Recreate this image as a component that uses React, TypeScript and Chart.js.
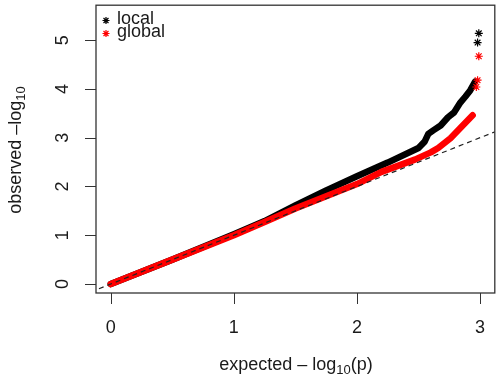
import React, { useEffect, useRef } from "react";
import { Chart, registerables } from "chart.js";

Chart.register(...registerables);

// ---- data ----
const xTicks = [0, 1, 2, 3];
const yTicks = [0, 1, 2, 3, 4, 5];

// local (black) dense band
const localX = [0, 0.5, 1.0, 1.25, 1.5, 1.75, 2.0, 2.25, 2.5, 2.55, 2.58, 2.62, 2.68, 2.74, 2.79, 2.84, 2.88, 2.92, 2.96];
const localY = [0, 0.5, 1.02, 1.29, 1.61, 1.92, 2.21, 2.49, 2.79, 2.92, 3.08, 3.15, 3.25, 3.42, 3.52, 3.72, 3.84, 3.97, 4.15];
// local sparse tail
const localTailX = [2.98, 2.99];
const localTailY = [4.95, 5.14];

// global (red) dense band
const globalX = [0, 0.5, 1.0, 1.25, 1.5, 1.75, 2.0, 2.2, 2.47, 2.6, 2.66, 2.76, 2.84, 2.94];
const globalY = [0, 0.5, 1.0, 1.27, 1.55, 1.8, 2.05, 2.3, 2.55, 2.7, 2.79, 2.99, 3.2, 3.46];
// global sparse tail
const globalTailX = [2.97, 2.98, 2.99];
const globalTailY = [4.04, 4.18, 4.67];

// y = x reference line
const refX = [-0.3, 3.3];
const refY = [-0.3, 3.3];

const legendLabels = ["local", "global"];
const legendColors = ["#000000", "#ff0000"];

const toPts = (xs: number[], ys: number[]) => xs.map((x, i) => ({ x, y: ys[i] }));

const FONT = "Liberation Sans, Arial, Helvetica, sans-serif";
const INK = "#1a1a1a";

function drawStar(ctx: CanvasRenderingContext2D, x: number, y: number, r: number, color: string) {
  ctx.save();
  ctx.strokeStyle = color;
  ctx.lineWidth = 1.2;
  ctx.beginPath();
  for (let k = 0; k < 4; k++) {
    const a = (k * Math.PI) / 4;
    ctx.moveTo(x - Math.cos(a) * r, y - Math.sin(a) * r);
    ctx.lineTo(x + Math.cos(a) * r, y + Math.sin(a) * r);
  }
  ctx.stroke();
  ctx.restore();
}

const decorPlugin = {
  id: "rdecor",
  afterDraw(chart: any) {
    const ctx: CanvasRenderingContext2D = chart.ctx;
    const { left, right, top, bottom } = chart.chartArea;
    const xs = chart.scales.x;
    const ys = chart.scales.y;
    ctx.save();
    // box
    ctx.strokeStyle = "#333";
    ctx.lineWidth = 1.3;
    ctx.strokeRect(left, top, right - left, bottom - top);
    // ticks
    ctx.lineWidth = 1;
    ctx.strokeStyle = "#333";
    ctx.beginPath();
    xTicks.forEach((t) => {
      const px = Math.round(xs.getPixelForValue(t)) + 0.5;
      ctx.moveTo(px, bottom);
      ctx.lineTo(px, bottom + 11);
    });
    yTicks.forEach((t) => {
      const py = Math.round(ys.getPixelForValue(t)) + 0.5;
      ctx.moveTo(left, py);
      ctx.lineTo(left - 11, py);
    });
    ctx.stroke();
    // tick labels
    ctx.fillStyle = INK;
    ctx.font = `18px ${FONT}`;
    ctx.textAlign = "center";
    ctx.textBaseline = "middle";
    xTicks.forEach((t) => {
      ctx.fillText(String(t), xs.getPixelForValue(t), 328);
    });
    yTicks.forEach((t) => {
      ctx.save();
      ctx.translate(63, ys.getPixelForValue(t));
      ctx.rotate(-Math.PI / 2);
      ctx.fillText(String(t), 0, 0);
      ctx.restore();
    });

    // titles with subscript
    const drawTitle = (parts: { t: string; sub?: boolean }[], cx: number, cy: number, rot: number) => {
      ctx.save();
      ctx.translate(cx, cy);
      ctx.rotate(rot);
      ctx.textAlign = "left";
      ctx.textBaseline = "alphabetic";
      let w = 0;
      parts.forEach((p) => {
        ctx.font = p.sub ? `13px ${FONT}` : `18px ${FONT}`;
        w += ctx.measureText(p.t).width;
      });
      let x = -w / 2;
      parts.forEach((p) => {
        ctx.font = p.sub ? `13px ${FONT}` : `18px ${FONT}`;
        ctx.fillText(p.t, x, p.sub ? 10 : 6);
        x += ctx.measureText(p.t).width;
      });
      ctx.restore();
    };
    drawTitle(
      [{ t: "expected \u2013 log" }, { t: "10", sub: true }, { t: "(p)" }],
      296,
      364,
      0
    );
    drawTitle(
      [{ t: "observed \u2013log" }, { t: "10", sub: true }],
      15,
      150,
      -Math.PI / 2
    );

    // legend
    legendLabels.forEach((lab, i) => {
      const cy = 20 + i * 13;
      drawStar(ctx, 106, cy + 0.5, 3.5, legendColors[i]);
      ctx.fillStyle = INK;
      ctx.font = `18px ${FONT}`;
      ctx.textAlign = "left";
      ctx.textBaseline = "middle";
      ctx.fillText(lab, 117, cy - 1);
    });
    ctx.restore();
  },
};

export default function App() {
  const ref = useRef<HTMLCanvasElement | null>(null);
  useEffect(() => {
    document.body.style.margin = "0";
    const canvas = ref.current!;
    const chart = new Chart(canvas, {
      type: "scatter",
      data: {
        datasets: [
          {
            label: "ref",
            data: toPts(refX, refY),
            showLine: true,
            borderColor: "#222",
            borderWidth: 1.2,
            borderDash: [5, 4],
            pointRadius: 0,
            order: 0,
          },
          {
            label: "global",
            data: toPts(globalX, globalY),
            showLine: true,
            borderColor: "#ff0000",
            borderWidth: 6.5,
            borderCapStyle: "round",
            borderJoinStyle: "round",
            pointRadius: 0,
            order: 1,
          },
          {
            label: "global tail",
            data: toPts(globalTailX, globalTailY),
            showLine: false,
            pointStyle: "star",
            pointRadius: 4,
            pointBorderColor: "#ff0000",
            pointBackgroundColor: "#ff0000",
            pointBorderWidth: 1.2,
            order: 1,
          },
          {
            label: "local",
            data: toPts(localX, localY),
            showLine: true,
            borderColor: "#000000",
            borderWidth: 6.5,
            borderCapStyle: "round",
            borderJoinStyle: "round",
            pointRadius: 0,
            order: 2,
          },
          {
            label: "local tail",
            data: toPts(localTailX, localTailY),
            showLine: false,
            pointStyle: "star",
            pointRadius: 4,
            pointBorderColor: "#000000",
            pointBackgroundColor: "#000000",
            pointBorderWidth: 1.2,
            order: 2,
          },
        ],
      },
      options: {
        animation: false,
        responsive: false,
        devicePixelRatio: 1,
        layout: { padding: { left: 96, top: 5, right: 2.4, bottom: 92 } },
        plugins: { legend: { display: false }, tooltip: { enabled: false } },
        scales: {
          x: { type: "linear", min: -0.12, max: 3.12, display: false },
          y: { type: "linear", min: -0.184, max: 5.717, display: false },
        },
      },
      plugins: [decorPlugin],
    });
    return () => chart.destroy();
  }, []);
  return (
    <div style={{ position: "fixed", left: 0, top: 0, width: 496, height: 385, overflow: "hidden", background: "#fff" }}>
      <canvas ref={ref} width={500} height={385} style={{ display: "block" }} />
    </div>
  );
}
